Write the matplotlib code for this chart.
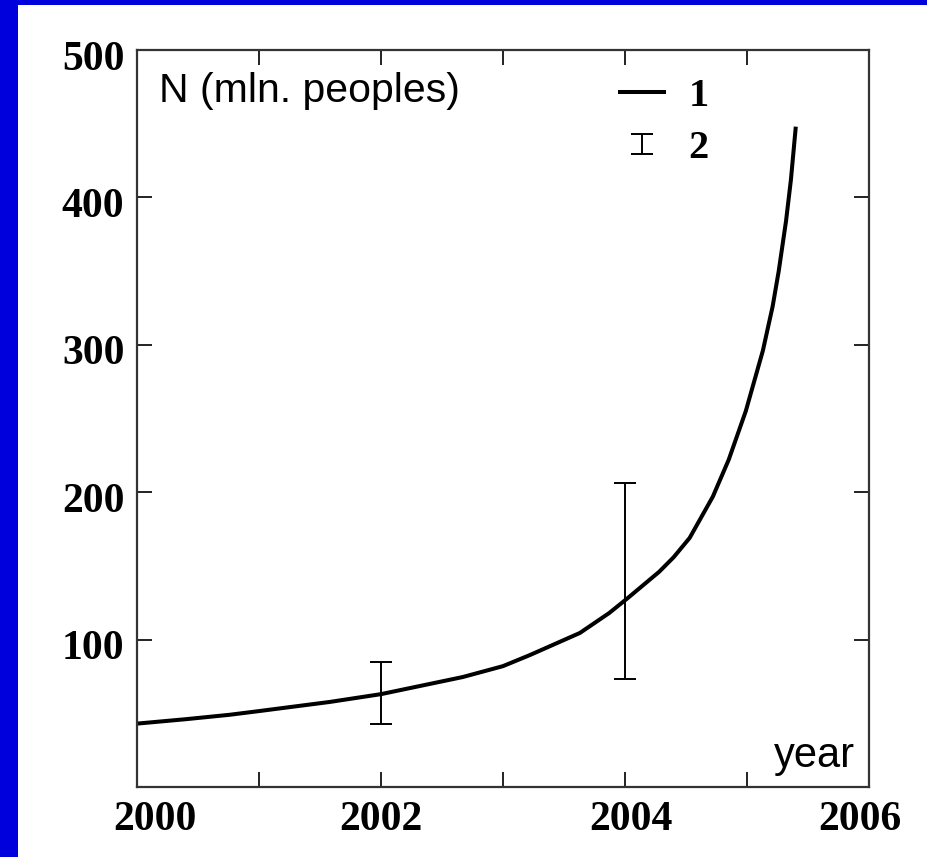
import matplotlib
matplotlib.use("Agg")
import matplotlib.pyplot as plt
from matplotlib.patches import Rectangle
from matplotlib.lines import Line2D
from matplotlib.ticker import MultipleLocator, FixedLocator, FuncFormatter
from matplotlib.legend_handler import HandlerErrorbar
from matplotlib.container import ErrorbarContainer
import matplotlib.transforms as mtransforms

# ---- data ----
curve_years = [2000.0, 2000.4, 2000.76, 2001.0, 2001.58, 2002.0, 2002.67, 2003.0,
               2003.22, 2003.63, 2003.87, 2004.02, 2004.28, 2004.4, 2004.53, 2004.72,
               2004.85, 2004.99, 2005.13, 2005.21, 2005.26, 2005.32, 2005.36, 2005.40]
curve_N = [43, 46, 49, 51.5, 57.7, 63, 74.6, 82,
           89.5, 104.5, 118, 128, 146, 156, 169, 197,
           222, 255, 296, 326, 350, 384, 412, 448]

err_years = [2002, 2004]
err_center = [63, 128]
err_low = [43, 73]
err_high = [85, 206]

y_tick_values = [100, 200, 300, 400, 500]
legend_labels = ["1", "2"]

W, H = 928, 857
fig = plt.figure(figsize=(W / 100, H / 100), dpi=100)
fig.patch.set_facecolor("#0000DC")
fig.patches.append(Rectangle((18 / W, 0), 1, (H - 5) / H, transform=fig.transFigure,
                             facecolor="white", edgecolor="none", zorder=-10))

ax = fig.add_axes([137 / W, 1 - 787 / H, (869 - 137) / W, (787 - 50) / H])
ax.set_zorder(5)
ax.set_facecolor("white")
ax.set_xlim(2000, 2006)
ax.set_ylim(0, 500)

sans = ["Liberation Sans", "DejaVu Sans"]
serif = ["Liberation Serif", "DejaVu Serif"]

ax.plot(curve_years, curve_N, color="black", lw=2.9, solid_capstyle="butt",
        solid_joinstyle="round")
yerr = [[c - l for c, l in zip(err_center, err_low)],
        [h - c for c, h in zip(err_center, err_high)]]
eb = ax.errorbar(err_years, err_center, yerr=yerr, fmt="none", ecolor="black",
                 elinewidth=1.4, capsize=8, capthick=1.4)

for s in ax.spines.values():
    s.set_linewidth(1.6)
    s.set_color("#333333")

ax.xaxis.set_major_locator(MultipleLocator(1))
ax.xaxis.set_major_formatter(FuncFormatter(lambda v, p: f"{int(round(v))}" if int(round(v)) % 2 == 0 else ""))
ax.yaxis.set_major_locator(FixedLocator(y_tick_values))
ax.tick_params(direction="in", length=11, width=1.4, color="#222222",
               top=True, right=True, labelsize=30)
ax.tick_params(axis="x", pad=10)
ax.tick_params(axis="y", pad=9)
for lab in ax.get_xticklabels() + ax.get_yticklabels():
    lab.set_fontfamily(serif)
    lab.set_fontweight("bold")

fig.canvas.draw()
for lab in ax.get_xticklabels():
    t = lab.get_text()
    dx = {"2000": 18, "2004": 6, "2006": -9}.get(t, 0)
    if dx:
        lab.set_transform(lab.get_transform() + mtransforms.ScaledTranslation(dx / 100, 0, fig.dpi_scale_trans))
for lab in ax.get_yticklabels():
    lab.set_transform(lab.get_transform() + mtransforms.ScaledTranslation(0, -5 / 100, fig.dpi_scale_trans))

ax.text(0.030, 0.929, "N (mln. peoples)", transform=ax.transAxes, family=sans,
        fontsize=29.5, ha="left", va="baseline")
ax.text(0.981, 0.027, "year", transform=ax.transAxes, family=sans,
        fontsize=30, ha="right", va="baseline")

h1 = Line2D([], [], color="black", lw=2.9)
ax.legend([h1, eb], legend_labels, loc="upper left",
          bbox_to_anchor=((620 - 137) / 732, (787 - 78) / 737),
          frameon=False, prop={"family": serif, "weight": "bold", "size": 29},
          handler_map={ErrorbarContainer: HandlerErrorbar(xerr_size=0.25, yerr_size=0.25)},
          handlelength=1.1, handletextpad=0.6, labelspacing=0.37, borderpad=0, borderaxespad=0)

fig.savefig("out.png", dpi=100, facecolor=fig.get_facecolor())
